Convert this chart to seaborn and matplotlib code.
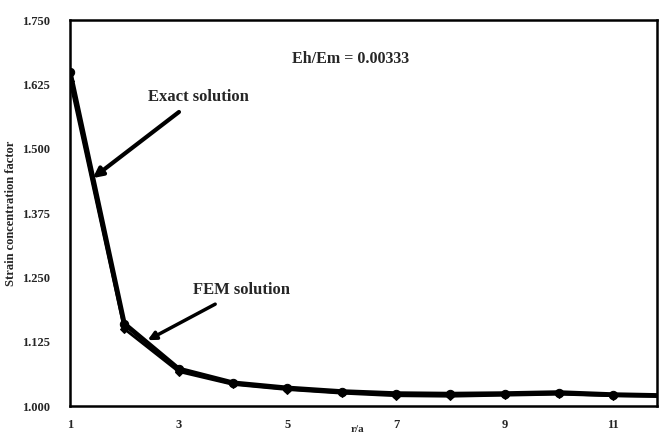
import matplotlib
matplotlib.use("Agg")
import matplotlib.pyplot as plt
import seaborn as sns
import pandas as pd
import numpy as np

# data
r_a = [1, 2, 3, 4, 5, 6, 7, 8, 9, 10, 11, 12]
exact = [1.650, 1.160, 1.072, 1.045, 1.035, 1.028, 1.024, 1.023, 1.024, 1.026, 1.022, 1.020]
fem = [1.632, 1.150, 1.067, 1.042, 1.032, 1.025, 1.020, 1.019, 1.021, 1.023, 1.020, 1.019]
y_ticks = [1.000, 1.125, 1.250, 1.375, 1.500, 1.625, 1.750]
y_tick_labels = ["1.000", "1.125", "1.250", "1.375", "1.500", "1.625", "1.750"]
x_ticks = [1, 3, 5, 7, 9, 11]

sns.set_theme(style="white")
plt.rcParams['font.family'] = ['Liberation Serif', 'DejaVu Serif']

fig = plt.figure(figsize=(6.6, 4.38), dpi=100)
ax = fig.add_axes([0.106, 0.073, 0.889, 0.881])

df = pd.DataFrame({"r/a": r_a + r_a,
                   "val": exact + fem,
                   "series": ["Exact"] * len(r_a) + ["FEM"] * len(r_a)})
sns.lineplot(data=df[df.series == "Exact"], x="r/a", y="val", ax=ax, color="black",
             lw=3.5, marker="o", markersize=6, markeredgecolor="black", legend=False)
sns.lineplot(data=df[df.series == "FEM"], x="r/a", y="val", ax=ax, color="black",
             lw=2.0, marker="D", markersize=4, markeredgecolor="black", legend=False)

ax.set_xlim(1, 11.8)
ax.set_ylim(1.0, 1.75)
ax.set_yticks(y_ticks)
ax.set_yticklabels(y_tick_labels)
ax.set_xticks(x_ticks)
ax.set_xticks([2, 4, 6, 8, 10], minor=True)
ax.set_yticks(np.arange(1.0625, 1.75, 0.125), minor=True)
ax.tick_params(which="both", direction="inout", color="black", width=1.5)
ax.tick_params(which="major", length=7, labelsize=9)
ax.tick_params(axis="x", which="major", pad=6)
ax.tick_params(axis="y", which="major", pad=11)
ax.tick_params(which="minor", length=4)
for lab in ax.get_xticklabels() + ax.get_yticklabels():
    lab.set_fontweight("bold")
for s in ax.spines.values():
    s.set_color("black")
    s.set_linewidth(1.8)

ax.set_xlabel("r/a", fontsize=8, fontweight="bold")
ax.xaxis.set_label_coords(0.49, -0.05)
ax.set_ylabel("Strain concentration factor", fontsize=9, fontweight="bold")
ax.yaxis.set_label_coords(-0.09, 0.5)

ax.text(0.479, 0.90, "Eh/Em = 0.00333", transform=ax.transAxes, fontsize=11.5,
        fontweight="bold", ha="center", va="center")

ax.annotate("Exact solution", xy=(1.42, 1.443), xytext=(2.43, 1.60),
            fontsize=12, fontweight="bold", ha="left", va="center",
            arrowprops=dict(arrowstyle="-|>", color="black", lw=3, mutation_scale=14,
                            shrinkA=4, shrinkB=0))
ax.annotate("FEM solution", xy=(2.43, 1.128), xytext=(3.26, 1.225),
            fontsize=12, fontweight="bold", ha="left", va="center",
            arrowprops=dict(arrowstyle="-|>", color="black", lw=2.5, mutation_scale=12,
                            shrinkA=4, shrinkB=0))

fig.savefig("out.png", dpi=100)
